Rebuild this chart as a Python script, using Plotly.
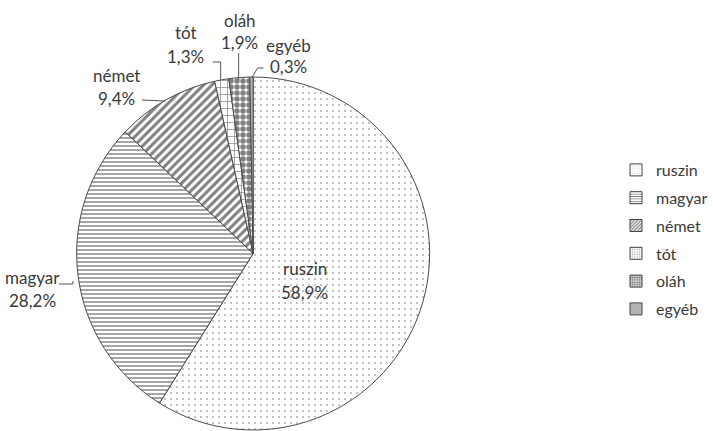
import plotly.graph_objects as go

labels = ["ruszin", "magyar", "német", "tót", "oláh", "egyéb"]
values = [58.9, 28.2, 9.4, 1.3, 1.9, 0.3]
pct_text = ["58,9%", "28,2%", "9,4%", "1,3%", "1,9%", "0,3%"]

W, H = 713, 431
FONT = "Lato"
FS = 17
TXT = "#3a3a3a"

def px(x):
    return x / W

def py(y):
    return 1 - y / H

shapes_ = [".", "-", "/", "+", ".", ""]
fg = ["#555555", "#000000", "#000000", "#111111", "#000000", "#b4b4b4"]
bg = ["white", "white", "white", "white", "white", "#b4b4b4"]
psize = [6, 4, 6, 7, 6, 8]
solid = [0.08, 0.35, 0.5, 0.2, 0.65, 0.3]

fig = go.Figure()
fig.add_trace(go.Pie(
    labels=labels, values=values, sort=False, direction="clockwise", rotation=0,
    textinfo="none", hoverinfo="label+percent", showlegend=False,
    domain=dict(x=[px(76), px(431)], y=[py(430), py(77)]),
    marker=dict(
        colors=bg,
        line=dict(color="#4a4a4a", width=1),
        pattern=dict(shape=shapes_, fgcolor=fg, bgcolor=bg, size=psize,
                     solidity=solid, fillmode="overlay"),
    ),
))

# legend entries (one group each so the spacing matches)
for i, lab in enumerate(labels):
    fig.add_trace(go.Bar(
        x=[None], y=[None], name=lab, legendgroup=lab,
        marker=dict(color=bg[i], line=dict(color="#444444", width=1),
                    pattern=dict(shape=shapes_[i], fgcolor=fg[i], bgcolor=bg[i],
                                 size=3, solidity=solid[i],
                                 fillmode="overlay")),
    ))

ann = []
def add_label(i, x, y, yp):
    for t, yy in ((labels[i], y), (pct_text[i], yp)):
        ann.append(dict(x=px(x), y=py(yy), xref="paper", yref="paper", text=t,
                        xanchor="center", yanchor="middle", showarrow=False,
                        font=dict(family=FONT, size=FS, color=TXT)))

add_label(0, 305, 268, 292)
add_label(1, 33, 277, 300)
add_label(2, 117, 76, 98)
add_label(3, 186, 33, 56)
add_label(4, 240, 20, 43)
add_label(5, 289, 45, 67)

line_style = dict(color="#555555", width=1)
paths = [
    [(59, 284), (73, 284), (73, 281)],        # magyar
    [(142, 100), (166, 101)],                  # német
    [(213, 62), (221, 62), (221, 80)],         # tót
    [(239, 53), (239, 80)],                    # oláh
    [(264, 68), (258, 68), (252, 78)],         # egyéb
]
shp = []
for p in paths:
    d = "M " + " L ".join(f"{px(a):.5f},{py(b):.5f}" for a, b in p)
    shp.append(dict(type="path", path=d, xref="paper", yref="paper", line=line_style))

fig.update_layout(
    width=W, height=H,
    margin=dict(l=0, r=0, t=0, b=0),
    paper_bgcolor="white", plot_bgcolor="white",
    xaxis=dict(visible=False), yaxis=dict(visible=False),
    annotations=ann, shapes=shp,
    font=dict(family=FONT, size=FS, color=TXT),
    legend=dict(x=px(617), y=py(153), xanchor="left", yanchor="top",
                font=dict(family=FONT, size=16, color=TXT),
                tracegroupgap=4, itemwidth=30, bgcolor="rgba(0,0,0,0)"),
)

fig.write_html("out.html", config={"displayModeBar": False},
               post_script="document.body.style.margin='0';")
